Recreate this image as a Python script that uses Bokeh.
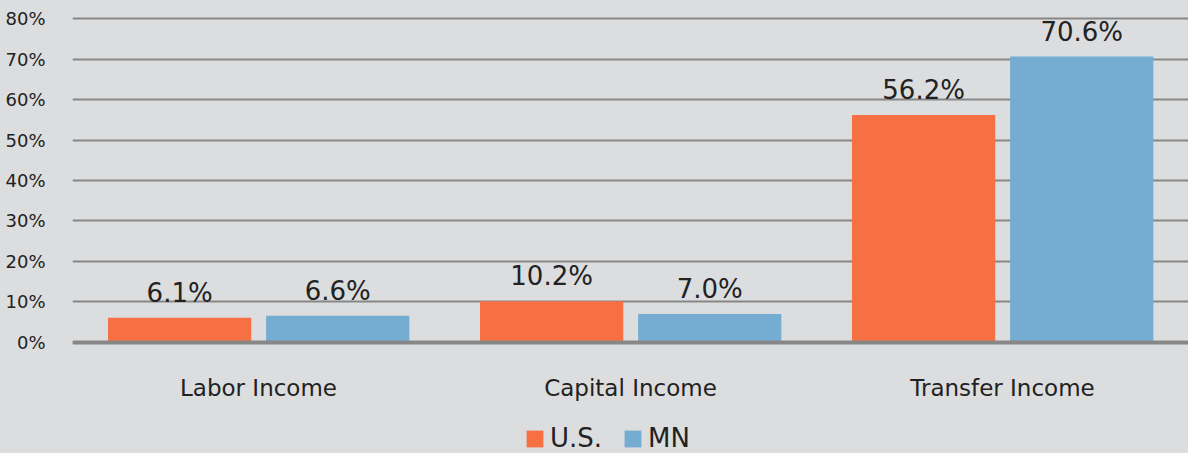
from bokeh.plotting import figure
from bokeh.layouts import column
from bokeh.models import (FactorRange, Range1d, ColumnDataSource, Span, Legend, LegendItem,
                          FixedTicker, LabelSet)
from bokeh.transform import dodge
from bokeh.core.properties import value
from bokeh.embed import file_html
from bokeh.resources import INLINE

categories = ["Labor Income", "Capital Income", "Transfer Income"]
us_values = [6.1, 10.2, 56.2]
mn_values = [6.6, 7.0, 70.6]
series_names = ["U.S.", "MN"]
y_ticks = [0, 10, 20, 30, 40, 50, 60, 70, 80]
y_tick_labels = ["0%", "10%", "20%", "30%", "40%", "50%", "60%", "70%", "80%"]

BG = "#DCDDDE"
ORANGE = "#F67044"
BLUE = "#74ACD2"
GRID = "#878787"
TEXT = "#222222"
FONT = "DejaVu Sans"
HOST_CSS = ":host { background-color: %s; }" % BG

src = ColumnDataSource(dict(
    cat=categories,
    us=us_values,
    mn=mn_values,
    us_lbl=[f"{v:.1f}%" for v in us_values],
    mn_lbl=[f"{v:.1f}%" for v in mn_values],
))

x_range = FactorRange(*categories, range_padding=0)
US_OFF, MN_OFF, BW = -0.212, 0.213, 0.385

# ---- main chart ----
p = figure(
    width=1188, height=420,
    x_range=x_range,
    y_range=Range1d(-1, 81),
    output_backend="svg", toolbar_location=None,
    min_border_left=72, min_border_right=0, min_border_top=14, min_border_bottom=74,
    background_fill_color=BG, border_fill_color=BG, outline_line_color=None,
    stylesheets=[HOST_CSS],
)

p.vbar(x=dodge("cat", US_OFF, range=x_range), top="us", bottom=0, width=BW,
       source=src, fill_color=ORANGE, line_color=None)
p.vbar(x=dodge("cat", MN_OFF, range=x_range), top="mn", bottom=0, width=BW,
       source=src, fill_color=BLUE, line_color=None)

for off, col, lbl in [(US_OFF, "us", "us_lbl"), (MN_OFF, "mn", "mn_lbl")]:
    p.add_layout(LabelSet(
        x=dodge("cat", off, range=x_range), y=col, text=lbl, source=src,
        text_align="center", text_baseline="alphabetic", y_offset=16,
        text_font=value(FONT), text_font_size=value("26px"), text_color=TEXT,
    ))

p.add_layout(Span(location=0, dimension="width", line_color=GRID, line_width=4))

p.xgrid.grid_line_color = None
p.ygrid.grid_line_color = GRID
p.ygrid.grid_line_width = 2
p.yaxis.ticker = FixedTicker(ticks=y_ticks)
p.yaxis.major_label_overrides = {t: l for t, l in zip(y_ticks, y_tick_labels)}
p.yaxis.axis_line_color = None
p.yaxis.major_tick_line_color = None
p.yaxis.minor_tick_line_color = None
p.yaxis.major_label_standoff = 21
p.yaxis.major_label_text_font = FONT
p.yaxis.major_label_text_font_size = "18px"
p.yaxis.major_label_text_color = TEXT

p.xaxis.axis_line_color = None
p.xaxis.major_tick_line_color = None
p.xaxis.major_label_standoff = 22
p.xaxis.major_label_text_font = FONT
p.xaxis.major_label_text_font_size = "23px"
p.xaxis.major_label_text_color = TEXT

# ---- legend strip (bars drawn out of view, only their legend entries show) ----
lg = figure(
    width=1188, height=33,
    x_range=x_range, y_range=Range1d(1000, 1001),
    output_backend="svg", toolbar_location=None,
    x_axis_location=None, y_axis_location=None,
    min_border=0, background_fill_color=BG, border_fill_color=BG, outline_line_color=None,
    stylesheets=[HOST_CSS],
)
lg.grid.grid_line_color = None
r_us = lg.vbar(x=dodge("cat", US_OFF, range=x_range), top="us", bottom=0, width=BW,
               source=src, fill_color=ORANGE, line_color=None)
r_mn = lg.vbar(x=dodge("cat", MN_OFF, range=x_range), top="mn", bottom=0, width=BW,
               source=src, fill_color=BLUE, line_color=None)
legend = Legend(
    items=[LegendItem(label=series_names[0], renderers=[r_us]),
           LegendItem(label=series_names[1], renderers=[r_mn])],
    orientation="horizontal", location=(452, 0),
    glyph_width=21, glyph_height=21, label_standoff=5, spacing=20,
    label_text_font=FONT, label_text_font_size="26px", label_text_color=TEXT,
    background_fill_alpha=0, border_line_color=None, padding=0, margin=0,
)
lg.add_layout(legend, "center")

layout = column(p, lg, spacing=0, stylesheets=[HOST_CSS])

html = file_html(layout, INLINE)
html = html.replace("<body>", '<body style="margin:0;background:%s;">' % BG, 1)
open("out.html", "w").write(html)
